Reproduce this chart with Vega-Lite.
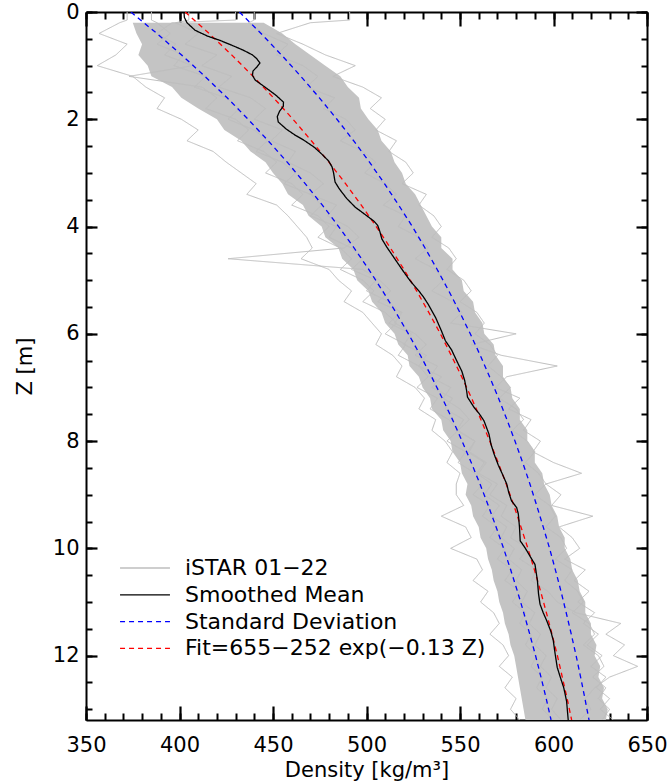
{
"$schema": "https://vega.github.io/schema/vega-lite/v6.json",
"width": 561, "height": 708,
"autosize": {"type": "none"},
"padding": {"left": 86, "top": 12, "right": 23, "bottom": 63},
"background": "white",
"config": {
 "view": {"stroke": null},
 "font": "DejaVu Sans",
 "axis": {"grid": false, "zindex": 1, "domainColor": "black", "tickColor": "black", "labelColor": "black", "titleColor": "black", "labelFont": "DejaVu Sans", "titleFont": "DejaVu Sans", "labelFontSize": 21, "titleFontSize": 21, "titleFontWeight": "normal", "domainWidth": 2, "tickWidth": 2, "labelFlush": false, "labelOverlap": false},
 "legend": {"orient": "none", "legendX": 46, "legendY": 543, "padding": 0, "rowPadding": 2.8, "labelFont": "DejaVu Sans", "labelFontSize": 22, "labelColor": "black", "labelOffset": 27, "labelLimit": 600, "symbolSize": 576, "symbolType": "M-2.08,0H2.08", "symbolStrokeWidth": 1.3}
},
"datasets": {
 "grid": [
  {"z":0,"a":372,"b":491,"c":405,"d":440,"e":385,"f":430},
  {"z":0.15,"a":372,"b":491,"c":405,"d":440,"e":385,"f":430},
  {"z":0.2,"lo":375,"hi":445,"a":368,"b":470,"c":398,"d":437,"e":388,"f":396},
  {"z":0.4,"lo":377,"hi":455,"a":357,"b":452,"c":410,"d":445,"e":395,"f":388},
  {"z":0.6,"lo":380,"hi":462,"a":372,"b":466,"c":403,"d":458,"e":388,"f":398},
  {"z":0.8,"lo":378,"hi":470,"a":366,"b":478,"c":420,"d":452,"e":402,"f":392},
  {"z":1.0,"lo":383,"hi":478,"a":356,"b":494,"c":412,"d":466,"e":397,"f":407},
  {"z":1.2,"lo":385,"hi":486,"a":375,"b":482,"c":428,"d":474,"e":414,"f":373},
  {"z":1.4,"lo":396,"hi":490,"a":382,"b":498,"c":421,"d":468,"e":408,"f":412},
  {"z":1.6,"lo":401,"hi":496,"a":392,"b":508,"c":438,"d":483,"e":425,"f":420},
  {"z":1.8,"lo":410,"hi":497,"a":388,"b":502,"c":446,"d":477,"e":432,"f":414},
  {"z":2.0,"lo":420,"hi":501,"a":401,"b":510,"c":440,"d":489,"e":426,"f":430},
  {"z":2.2,"lo":424,"hi":506,"a":410,"b":505,"c":455,"d":494,"e":440,"f":437},
  {"z":2.4,"lo":433,"hi":508,"a":404,"b":516,"c":449,"d":486,"e":447,"f":431},
  {"z":2.6,"lo":438,"hi":513,"a":418,"b":512,"c":462,"d":498,"e":441,"f":445},
  {"z":2.8,"lo":446,"hi":515,"a":425,"b":521,"c":458,"d":505,"e":455,"f":452},
  {"z":3.0,"lo":450,"hi":519,"a":433,"b":525,"c":470,"d":499,"e":462,"f":446},
  {"z":3.2,"lo":455,"hi":521,"a":441,"b":519,"c":477,"d":510,"e":456,"f":460},
  {"z":3.4,"lo":458,"hi":526,"a":436,"b":532,"c":470,"d":516,"e":470,"f":466},
  {"z":3.6,"lo":466,"hi":529,"a":452,"b":528,"c":484,"d":509,"e":476,"f":460},
  {"z":3.8,"lo":469,"hi":532,"a":458,"b":536,"c":479,"d":521,"e":470,"f":474},
  {"z":4.0,"lo":476,"hi":535,"a":463,"b":540,"c":490,"d":517,"e":484,"f":480},
  {"z":4.2,"lo":478,"hi":540,"a":468,"b":535,"c":496,"d":528,"e":480,"f":474},
  {"z":4.4,"lo":485,"hi":540,"a":471,"b":544,"c":488,"d":533,"e":492,"f":486},
  {"z":4.6,"lo":487,"hi":546,"a":465,"b":548,"c":426,"d":526,"e":498,"f":492},
  {"z":4.8,"lo":493,"hi":546,"a":480,"b":543,"c":498,"d":537,"e":492,"f":486},
  {"z":5.0,"lo":495,"hi":551,"a":485,"b":552,"c":507,"d":541,"e":505,"f":498},
  {"z":5.2,"lo":501,"hi":552,"a":492,"b":556,"c":513,"d":535,"e":500,"f":504},
  {"z":5.4,"lo":503,"hi":557,"a":488,"b":550,"c":506,"d":546,"e":512,"f":498},
  {"z":5.6,"lo":508,"hi":558,"a":498,"b":559,"c":519,"d":551,"e":518,"f":510},
  {"z":5.8,"lo":510,"hi":562,"a":503,"b":563,"c":515,"d":545,"e":512,"f":516},
  {"z":6.0,"lo":515,"hi":563,"a":508,"b":558,"c":526,"d":580,"e":524,"f":510},
  {"z":6.2,"lo":517,"hi":568,"a":505,"b":566,"c":532,"d":556,"e":520,"f":521},
  {"z":6.4,"lo":522,"hi":569,"a":514,"b":570,"c":526,"d":572,"e":532,"f":517},
  {"z":6.6,"lo":523,"hi":573,"a":519,"b":565,"c":538,"d":602,"e":528,"f":528},
  {"z":6.8,"lo":528,"hi":573,"a":516,"b":572,"c":534,"d":575,"e":540,"f":533},
  {"z":7.0,"lo":530,"hi":577,"a":526,"b":577,"c":545,"d":569,"e":535,"f":527},
  {"z":7.2,"lo":534,"hi":578,"a":531,"b":571,"c":541,"d":582,"e":546,"f":538},
  {"z":7.4,"lo":535,"hi":582,"a":528,"b":580,"c":550,"d":576,"e":542,"f":534},
  {"z":7.6,"lo":540,"hi":582,"a":537,"b":584,"c":555,"d":588,"e":552,"f":544},
  {"z":7.8,"lo":541,"hi":586,"a":535,"b":578,"c":549,"d":584,"e":548,"f":549},
  {"z":8.0,"lo":545,"hi":586,"a":542,"b":586,"c":558,"d":593,"e":558,"f":543},
  {"z":8.2,"lo":546,"hi":590,"a":546,"b":590,"c":554,"d":589,"e":555,"f":553},
  {"z":8.4,"lo":550,"hi":590,"a":543,"b":585,"c":563,"d":600,"e":564,"f":549},
  {"z":8.6,"lo":551,"hi":594,"a":550,"b":592,"c":559,"d":615,"e":560,"f":558},
  {"z":8.8,"lo":554,"hi":595,"a":548,"b":596,"c":567,"d":596,"e":570,"f":562},
  {"z":9.0,"lo":553,"hi":598,"a":548,"b":590,"c":563,"d":604,"e":566,"f":557},
  {"z":9.2,"lo":556,"hi":599,"a":552,"b":598,"c":571,"d":599,"e":575,"f":566},
  {"z":9.4,"lo":557,"hi":602,"a":540,"b":601,"c":567,"d":621,"e":572,"f":562},
  {"z":9.6,"lo":560,"hi":603,"a":553,"b":596,"c":575,"d":603,"e":580,"f":570},
  {"z":9.8,"lo":561,"hi":606,"a":556,"b":604,"c":572,"d":610,"e":577,"f":566},
  {"z":10.0,"lo":564,"hi":606,"a":545,"b":607,"c":579,"d":614,"e":586,"f":574},
  {"z":10.2,"lo":565,"hi":609,"a":559,"b":601,"c":576,"d":606,"e":582,"f":570},
  {"z":10.4,"lo":567,"hi":610,"a":562,"b":610,"c":583,"d":617,"e":591,"f":578},
  {"z":10.6,"lo":568,"hi":613,"a":557,"b":606,"c":580,"d":611,"e":588,"f":574},
  {"z":10.8,"lo":570,"hi":614,"a":565,"b":613,"c":586,"d":619,"e":597,"f":582},
  {"z":11.0,"lo":571,"hi":617,"a":561,"b":616,"c":583,"d":613,"e":602,"f":578},
  {"z":11.2,"lo":573,"hi":617,"a":568,"b":610,"c":590,"d":622,"e":612,"f":585},
  {"z":11.4,"lo":574,"hi":620,"a":571,"b":619,"c":587,"d":616,"e":636,"f":582},
  {"z":11.6,"lo":576,"hi":620,"a":566,"b":622,"c":593,"d":624,"e":628,"f":588},
  {"z":11.8,"lo":577,"hi":623,"a":573,"b":616,"c":590,"d":618,"e":638,"f":585},
  {"z":12.0,"lo":579,"hi":622,"a":576,"b":624,"c":596,"d":626,"e":632,"f":591},
  {"z":12.2,"lo":580,"hi":625,"a":571,"b":627,"c":593,"d":620,"e":645,"f":588},
  {"z":12.4,"lo":581,"hi":624,"a":578,"b":621,"c":599,"d":628,"e":630,"f":594},
  {"z":12.6,"lo":582,"hi":627,"a":574,"b":628,"c":596,"d":623,"e":622,"f":591},
  {"z":12.8,"lo":583,"hi":626,"a":580,"b":624,"c":602,"d":630,"e":617,"f":597},
  {"z":13.0,"lo":584,"hi":629,"a":577,"b":630,"c":599,"d":625,"e":620,"f":594},
  {"z":13.2,"lo":585,"hi":628,"a":582,"b":626,"c":604,"d":632,"e":614,"f":600}
 ],
 "curves": [
  {"z":0.0,"fit":403.0,"l":374.0,"rr":432.0},
  {"z":0.4,"fit":415.8,"l":387.9,"rr":443.6},
  {"z":0.8,"fit":427.9,"l":401.1,"rr":454.5},
  {"z":1.2,"fit":439.4,"l":413.6,"rr":464.9},
  {"z":1.6,"fit":450.3,"l":425.5,"rr":474.8},
  {"z":2.0,"fit":460.7,"l":436.7,"rr":484.2},
  {"z":2.4,"fit":470.5,"l":447.4,"rr":493.1},
  {"z":2.8,"fit":479.9,"l":457.6,"rr":501.6},
  {"z":3.2,"fit":488.8,"l":467.2,"rr":509.6},
  {"z":3.6,"fit":497.2,"l":476.4,"rr":517.2},
  {"z":4.0,"fit":505.2,"l":485.1,"rr":524.5},
  {"z":4.4,"fit":512.8,"l":493.4,"rr":531.3},
  {"z":4.8,"fit":520.0,"l":501.2,"rr":537.8},
  {"z":5.2,"fit":526.8,"l":508.6,"rr":544.0},
  {"z":5.6,"fit":533.3,"l":515.7,"rr":549.9},
  {"z":6.0,"fit":539.5,"l":522.4,"rr":555.5},
  {"z":6.4,"fit":545.3,"l":528.8,"rr":560.8},
  {"z":6.8,"fit":550.9,"l":534.8,"rr":565.8},
  {"z":7.2,"fit":556.2,"l":540.5,"rr":570.6},
  {"z":7.6,"fit":561.2,"l":546.0,"rr":575.1},
  {"z":8.0,"fit":565.9,"l":551.1,"rr":579.4},
  {"z":8.4,"fit":570.4,"l":556.0,"rr":583.5},
  {"z":8.8,"fit":574.7,"l":560.7,"rr":587.4},
  {"z":9.2,"fit":578.8,"l":565.1,"rr":591.0},
  {"z":9.6,"fit":582.6,"l":569.3,"rr":594.5},
  {"z":10.0,"fit":586.3,"l":573.3,"rr":597.9},
  {"z":10.4,"fit":589.8,"l":577.1,"rr":601.0},
  {"z":10.8,"fit":593.1,"l":580.7,"rr":604.0},
  {"z":11.2,"fit":596.2,"l":584.1,"rr":606.8},
  {"z":11.6,"fit":599.2,"l":587.3,"rr":609.5},
  {"z":12.0,"fit":602.1,"l":590.4,"rr":612.1},
  {"z":12.4,"fit":604.7,"l":593.3,"rr":614.5},
  {"z":12.8,"fit":607.3,"l":596.1,"rr":616.8},
  {"z":13.2,"fit":609.7,"l":598.7,"rr":619.0}
 ],
 "mean": [
  {"z":0.0,"r":402.4},{"z":0.1,"r":402.6},{"z":0.2,"r":404.0},{"z":0.34,"r":408.3},{"z":0.45,"r":415},{"z":0.53,"r":421.7},{"z":0.62,"r":428},{"z":0.71,"r":434},{"z":0.8,"r":439},{"z":0.87,"r":441.3},{"z":0.95,"r":443.0},{"z":1.02,"r":441.5},{"z":1.1,"r":439.3},{"z":1.18,"r":439.0},{"z":1.27,"r":440.5},{"z":1.4,"r":445.7},{"z":1.55,"r":451.5},{"z":1.68,"r":455.6},{"z":1.76,"r":455.5},{"z":1.85,"r":453.5},{"z":1.95,"r":452.3},{"z":2.05,"r":452.8},{"z":2.18,"r":457},{"z":2.3,"r":462},{"z":2.39,"r":466.5},{"z":2.52,"r":472},{"z":2.64,"r":475.8},{"z":2.78,"r":479.8},{"z":2.89,"r":481.6},{"z":3.0,"r":482.4},{"z":3.17,"r":483.2},{"z":3.3,"r":485.5},{"z":3.48,"r":489.5},{"z":3.64,"r":494},{"z":3.79,"r":499.8},{"z":3.9,"r":504},{"z":3.98,"r":506},{"z":4.1,"r":507.2},{"z":4.23,"r":508.2},{"z":4.38,"r":510.8},{"z":4.57,"r":514.5},{"z":4.8,"r":519},{"z":5.01,"r":523.3},{"z":5.2,"r":528},{"z":5.32,"r":530.6},{"z":5.45,"r":533},{"z":5.7,"r":537},{"z":5.94,"r":540},{"z":6.13,"r":542.2},{"z":6.3,"r":545.5},{"z":6.5,"r":548.2},{"z":6.7,"r":551},{"z":6.87,"r":552.5},{"z":7.05,"r":553.5},{"z":7.18,"r":554},{"z":7.37,"r":557.5},{"z":7.5,"r":560.5},{"z":7.62,"r":562.8},{"z":7.87,"r":565.5},{"z":8.05,"r":566.5},{"z":8.24,"r":568.2},{"z":8.45,"r":570.5},{"z":8.61,"r":572.6},{"z":8.8,"r":575},{"z":8.95,"r":576},{"z":9.11,"r":577.5},{"z":9.24,"r":580.3},{"z":9.36,"r":581.2},{"z":9.6,"r":581.8},{"z":9.86,"r":582.2},{"z":9.99,"r":584.8},{"z":10.15,"r":587.5},{"z":10.3,"r":590.1},{"z":10.6,"r":591.4},{"z":10.85,"r":592},{"z":11.04,"r":592.8},{"z":11.2,"r":594.5},{"z":11.35,"r":596.4},{"z":11.55,"r":598.6},{"z":11.72,"r":599.9},{"z":11.95,"r":600.8},{"z":12.22,"r":602},{"z":12.42,"r":603.8},{"z":12.6,"r":605.5},{"z":12.85,"r":607},{"z":13.21,"r":607.9}
 ]
},
"layer": [
 {
  "data": {"name": "grid"},
  "mark": {"type": "area", "orient": "horizontal", "color": "#c4c4c4", "clip": true},
  "encoding": {
   "y": {"field": "z", "type": "quantitative", "scale": {"domain": [0, 13.2], "reverse": true, "nice": false, "zero": false},
         "axis": {"orient": "left", "ticks": false, "domain": true, "labelPadding": 7, "values": [0,2,4,6,8,10,12], "title": "Z [m]", "titlePadding": 17}},
   "x": {"field": "lo", "type": "quantitative", "scale": {"domain": [350, 650], "nice": false, "zero": false},
         "axis": {"orient": "bottom", "ticks": false, "domain": true, "labelPadding": 14, "values": [350,400,450,500,550,600,650], "title": "Density [kg/m³]", "titlePadding": 4}},
   "x2": {"field": "hi"}
  }
 },
 {
  "data": {"name": "grid"},
  "transform": [{"fold": ["a","b","c","d","e","f"], "as": ["s", "rho"]}],
  "mark": {"type": "line", "strokeWidth": 1, "clip": true},
  "encoding": {
   "y": {"field": "z", "type": "quantitative", "scale": {"domain": [0, 13.2], "reverse": true, "nice": false, "zero": false},
         "axis": {"orient": "left", "labels": false, "domain": false, "ticks": true, "tickColor": "#000000", "tickWidth": 2.2, "tickSize": 11, "offset": -11, "values": [0,2,4,6,8,10,12], "title": null}},
   "x": {"field": "rho", "type": "quantitative", "scale": {"domain": [350, 650], "nice": false, "zero": false},
         "axis": {"orient": "bottom", "labels": false, "domain": false, "ticks": true, "tickColor": "#000000", "tickWidth": 2.2, "tickSize": 14, "offset": -14, "values": [350,400,450,500,550,600,650], "title": null}},
   "detail": {"field": "s"},
   "order": {"field": "z", "type": "quantitative"},
   "color": {"datum": "iSTAR 01−22", "title": null, "scale": {"domain": ["iSTAR 01−22", "Smoothed Mean", "Standard Deviation", "Fit=655−252 exp(−0.13 Z)"], "range": ["#bebebe", "#000000", "#0000ff", "#ff0000"]}},
   "strokeDash": {"datum": "iSTAR 01−22", "title": null, "scale": {"domain": ["iSTAR 01−22", "Smoothed Mean", "Standard Deviation", "Fit=655−252 exp(−0.13 Z)"], "range": [[1,0],[1,0],[5,4],[5,4]]}}
  }
 },
 {
  "data": {"name": "curves"},
  "mark": {"type": "line", "strokeWidth": 1.3, "clip": true},
  "encoding": {
   "y": {"field": "z", "type": "quantitative",
         "axis": {"orient": "left", "labels": false, "domain": false, "ticks": true, "tickColor": "#000000", "tickWidth": 2, "tickSize": 6, "offset": -6, "values": [0,0.5,1,1.5,2,2.5,3,3.5,4,4.5,5,5.5,6,6.5,7,7.5,8,8.5,9,9.5,10,10.5,11,11.5,12,12.5,13], "title": null}},
   "x": {"field": "l", "type": "quantitative",
         "axis": {"orient": "bottom", "labels": false, "domain": false, "ticks": true, "tickColor": "#000000", "tickWidth": 2, "tickSize": 7, "offset": -7, "values": [350,360,370,380,390,400,410,420,430,440,450,460,470,480,490,500,510,520,530,540,550,560,570,580,590,600,610,620,630,640,650], "title": null}},
   "order": {"field": "z", "type": "quantitative"},
   "color": {"datum": "Standard Deviation", "title": null},
   "strokeDash": {"datum": "Standard Deviation", "title": null}
  }
 },
 {
  "data": {"name": "curves"},
  "mark": {"type": "line", "strokeWidth": 1.3, "clip": true},
  "encoding": {
   "y": {"field": "z", "type": "quantitative",
         "axis": {"orient": "right", "labels": false, "domain": true, "ticks": false, "title": null}},
   "x": {"field": "rr", "type": "quantitative",
         "axis": {"orient": "top", "labels": false, "domain": true, "ticks": false, "title": null}},
   "order": {"field": "z", "type": "quantitative"},
   "color": {"datum": "Standard Deviation", "title": null},
   "strokeDash": {"datum": "Standard Deviation", "title": null}
  }
 },
 {
  "data": {"name": "curves"},
  "mark": {"type": "line", "strokeWidth": 1.3, "clip": true},
  "encoding": {
   "y": {"field": "z", "type": "quantitative",
         "axis": {"orient": "right", "labels": false, "domain": false, "ticks": true, "tickColor": "#000000", "tickWidth": 2.2, "tickSize": 11, "offset": -11, "values": [0,2,4,6,8,10,12], "title": null}},
   "x": {"field": "fit", "type": "quantitative",
         "axis": {"orient": "top", "labels": false, "domain": false, "ticks": true, "tickColor": "#000000", "tickWidth": 2.2, "tickSize": 14, "offset": -14, "values": [350,400,450,500,550,600,650], "title": null}},
   "order": {"field": "z", "type": "quantitative"},
   "color": {"datum": "Fit=655−252 exp(−0.13 Z)", "title": null},
   "strokeDash": {"datum": "Fit=655−252 exp(−0.13 Z)", "title": null}
  }
 },
 {
  "data": {"name": "mean"},
  "mark": {"type": "line", "strokeWidth": 1.3, "clip": true},
  "encoding": {
   "y": {"field": "z", "type": "quantitative",
         "axis": {"orient": "right", "labels": false, "domain": false, "ticks": true, "tickColor": "#000000", "tickWidth": 2, "tickSize": 6, "offset": -6, "values": [0,0.5,1,1.5,2,2.5,3,3.5,4,4.5,5,5.5,6,6.5,7,7.5,8,8.5,9,9.5,10,10.5,11,11.5,12,12.5,13], "title": null}},
   "x": {"field": "r", "type": "quantitative",
         "axis": {"orient": "top", "labels": false, "domain": false, "ticks": true, "tickColor": "#000000", "tickWidth": 2, "tickSize": 7, "offset": -7, "values": [350,360,370,380,390,400,410,420,430,440,450,460,470,480,490,500,510,520,530,540,550,560,570,580,590,600,610,620,630,640,650], "title": null}},
   "order": {"field": "z", "type": "quantitative"},
   "color": {"datum": "Smoothed Mean", "title": null},
   "strokeDash": {"datum": "Smoothed Mean", "title": null}
  }
 }
],
"resolve": {"axis": {"x": "independent", "y": "independent"}}
}
